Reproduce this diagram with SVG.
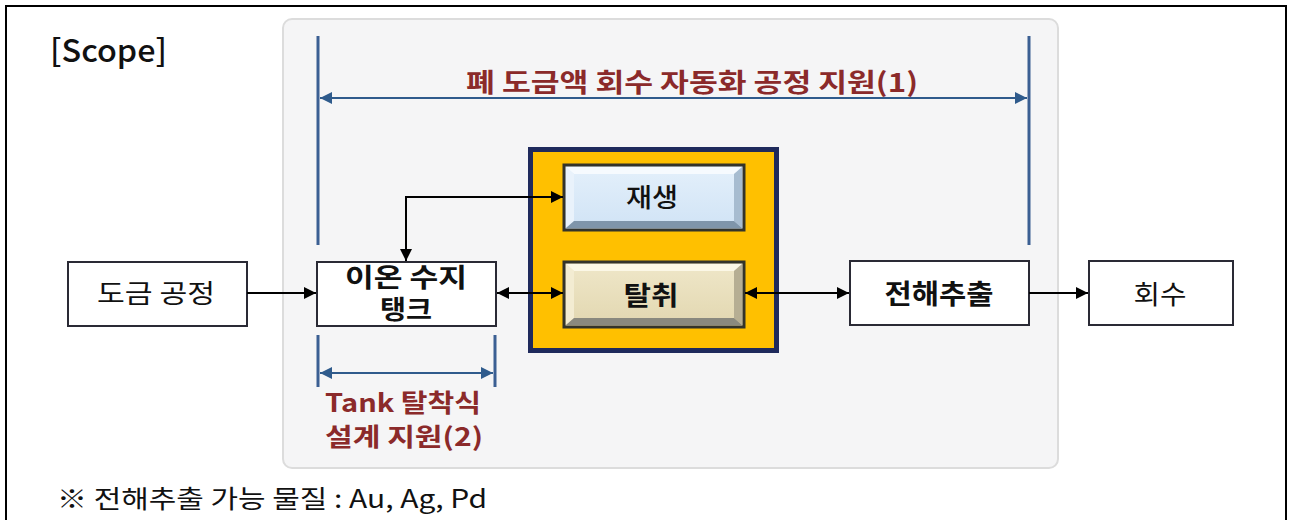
<svg xmlns="http://www.w3.org/2000/svg" width="1289" height="520" viewBox="0 0 1289 520">
<defs>
<style>
.kr{font-family:"Noto Sans CJK KR","Noto Sans",sans-serif;}
.box{fill:#fff;stroke:#2a2a35;stroke-width:2;}
.lbl{fill:#111;text-anchor:middle;}
.b{font-weight:bold;}
.red{fill:#8b2a2a;font-weight:bold;text-anchor:middle;}
.conn{stroke:#000;stroke-width:2;fill:none;}
.blue{stroke:#3b5f93;stroke-width:3;fill:none;}
.barrow{stroke:#2f5b8c;stroke-width:2;fill:none;}
</style>
<marker id="ahk" viewBox="0 0 10 10" refX="10" refY="5" markerWidth="14" markerHeight="12" orient="auto-start-reverse" markerUnits="userSpaceOnUse">
<path d="M0,0 L10,5 L0,10 z" fill="#000"/>
</marker>
<marker id="ahb" viewBox="0 0 10 10" refX="10" refY="5" markerWidth="14" markerHeight="12" orient="auto-start-reverse" markerUnits="userSpaceOnUse">
<path d="M0,0 L10,5 L0,10 z" fill="#2f5b8c"/>
</marker>
<linearGradient id="gBlue" x1="0" y1="0" x2="0" y2="1">
<stop offset="0" stop-color="#e4f0fb"/>
<stop offset="1" stop-color="#d0e3f5"/>
</linearGradient>
<linearGradient id="gTan" x1="0" y1="0" x2="0" y2="1">
<stop offset="0" stop-color="#efe7c9"/>
<stop offset="1" stop-color="#e2d7b0"/>
</linearGradient>
</defs>
<rect x="0" y="0" width="1289" height="520" fill="#fff"/>
<rect x="6" y="6" width="1280" height="530" fill="none" stroke="#000" stroke-width="2"/>
<text x="50" y="62" class="kr" font-size="31" font-weight="500" fill="#111" textLength="117" lengthAdjust="spacingAndGlyphs">[Scope]</text>
<rect x="283" y="19" width="775" height="449" rx="9" fill="#f5f5f6" stroke="#dcdcdc" stroke-width="2"/>

<g id="scope1">
<line x1="318" y1="36" x2="318" y2="245" class="blue"/>
<line x1="1029" y1="36" x2="1029" y2="245" class="blue"/>
<line x1="320" y1="98" x2="1027" y2="98" class="barrow" marker-start="url(#ahb)" marker-end="url(#ahb)"/>
<text x="692" y="92" class="kr red" font-size="26" textLength="452" lengthAdjust="spacingAndGlyphs">폐 도금액 회수 자동화 공정 지원(1)</text>
</g>

<g id="scope2">
<line x1="318" y1="335" x2="318" y2="387" class="blue"/>
<line x1="495" y1="335" x2="495" y2="387" class="blue"/>
<line x1="320" y1="373" x2="493" y2="373" class="barrow" marker-start="url(#ahb)" marker-end="url(#ahb)"/>
<text x="403" y="412" class="kr red" font-size="25" textLength="156" lengthAdjust="spacingAndGlyphs">Tank 탈착식</text>
<text x="404" y="446" class="kr red" font-size="25" textLength="158" lengthAdjust="spacingAndGlyphs">설계 지원(2)</text>
</g>

<g id="yellow">
<rect x="530.5" y="149.5" width="246" height="201" fill="#ffc000" stroke="#1f2a5c" stroke-width="5"/>
</g>

<g id="regen">
<rect x="564" y="165" width="180" height="65" fill="url(#gBlue)" stroke="#33332a" stroke-width="3"/>
<polygon points="566,167 742,167 734,174 574,174" fill="#f6fafe"/>
<polygon points="566,167 574,174 574,221 566,228" fill="#e9f2fb"/>
<polygon points="742,167 742,228 734,221 734,174" fill="#a7bcd0"/>
<polygon points="566,228 574,221 734,221 742,228" fill="#7f95aa"/>
<text x="652" y="207" class="kr lbl" font-size="26" font-weight="500" textLength="52" lengthAdjust="spacingAndGlyphs">재생</text>
</g>

<g id="strip">
<rect x="564" y="262" width="180" height="65" fill="url(#gTan)" stroke="#33332a" stroke-width="3"/>
<polygon points="566,264 742,264 734,271 574,271" fill="#fbf7e6"/>
<polygon points="566,264 574,271 574,318 566,325" fill="#f3ecd2"/>
<polygon points="742,264 742,325 734,318 734,271" fill="#b6ae93"/>
<polygon points="566,325 574,318 734,318 742,325" fill="#8a897e"/>
<text x="651" y="305" class="kr lbl b" font-size="26" textLength="55" lengthAdjust="spacingAndGlyphs">탈취</text>
</g>

<g id="plating">
<rect x="68" y="262" width="179" height="64" class="box"/>
<text x="156" y="303" class="kr lbl" font-size="26" textLength="118" lengthAdjust="spacingAndGlyphs">도금 공정</text>
</g>

<g id="tank">
<rect x="317" y="262" width="179" height="64" class="box"/>
<text x="406" y="287" class="kr lbl b" font-size="26" textLength="122" lengthAdjust="spacingAndGlyphs">이온 수지</text>
<text x="406" y="319" class="kr lbl b" font-size="26" textLength="52" lengthAdjust="spacingAndGlyphs">탱크</text>
</g>

<g id="electro">
<rect x="850" y="261" width="179" height="64" class="box"/>
<text x="939" y="304" class="kr lbl b" font-size="27" textLength="109" lengthAdjust="spacingAndGlyphs">전해추출</text>
</g>

<g id="recover">
<rect x="1089" y="261" width="144" height="64" class="box"/>
<text x="1160" y="304" class="kr lbl" font-size="26" textLength="53" lengthAdjust="spacingAndGlyphs">회수</text>
</g>

<g id="connectors">
<line x1="247" y1="293" x2="316" y2="293" class="conn" marker-end="url(#ahk)"/>
<line x1="497" y1="293" x2="563" y2="293" class="conn" marker-start="url(#ahk)" marker-end="url(#ahk)"/>
<line x1="745" y1="293" x2="849" y2="293" class="conn" marker-start="url(#ahk)" marker-end="url(#ahk)"/>
<line x1="1029" y1="293" x2="1088" y2="293" class="conn" marker-end="url(#ahk)"/>
<path d="M563,197 H406 V261" class="conn" marker-start="url(#ahk)" marker-end="url(#ahk)"/>
</g>

<text x="57" y="508" class="kr" font-size="25" fill="#111" textLength="430" lengthAdjust="spacingAndGlyphs">※ 전해추출 가능 물질 : Au, Ag, Pd</text>
</svg>
